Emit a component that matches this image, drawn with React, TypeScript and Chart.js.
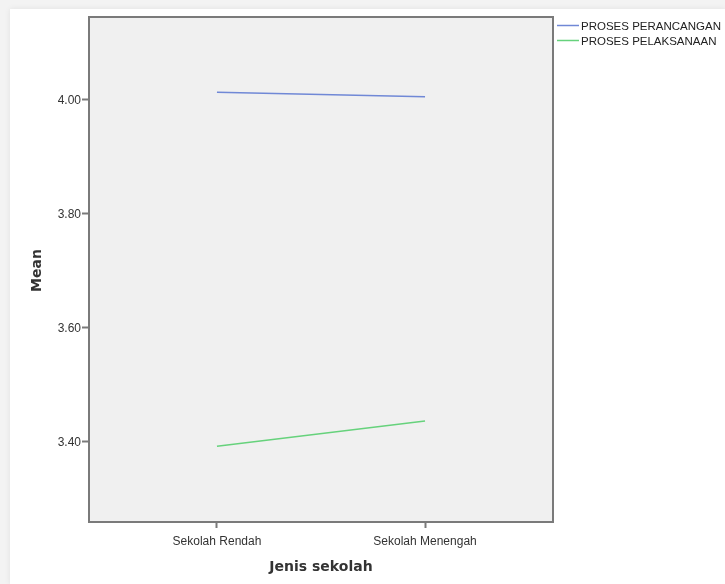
import React, { useEffect, useRef } from "react";
import { Chart, registerables } from "chart.js";

Chart.register(...registerables);

const categories = ["Sekolah Rendah", "Sekolah Menengah"];
const seriesNames = ["PROSES PERANCANGAN", "PROSES PELAKSANAAN"];
const perancangan = [4.012, 4.004];
const pelaksanaan = [3.391, 3.435];
const yTicks = [3.4, 3.6, 3.8, 4.0];
const xTitle = "Jenis sekolah";
const yTitle = "Mean";
const colors = ["#7088d6", "#66d27c"];

const W = 725;
const H = 584;
const FONT = "'Liberation Sans', Arial, sans-serif";
const TITLE_FONT = "bold 14px 'DejaVu Sans', sans-serif";

export default function App() {
  const ref = useRef<HTMLCanvasElement | null>(null);

  useEffect(() => {
    if (!ref.current) return;
    const bgPlugin = {
      id: "plotbg",
      beforeDraw(chart: any) {
        const { ctx, chartArea: a } = chart;
        ctx.save();
        ctx.fillStyle = "#f0f0f0";
        ctx.fillRect(a.left, a.top, a.right - a.left, a.bottom - a.top);
        ctx.restore();
      },
      afterDraw(chart: any) {
        const { ctx, chartArea: a } = chart;
        ctx.save();
        ctx.strokeStyle = "#7a7a7a";
        ctx.lineWidth = 2;
        ctx.strokeRect(a.left, a.top, a.right - a.left, a.bottom - a.top);
        // axis titles
        ctx.fillStyle = "#333";
        ctx.font = TITLE_FONT;
        ctx.textAlign = "center";
        ctx.textBaseline = "middle";
        ctx.fillText(xTitle, (a.left + a.right) / 2, 567);
        ctx.save();
        ctx.translate(37, (a.top + a.bottom) / 2 + 1);
        ctx.rotate(-Math.PI / 2);
        ctx.fillText(yTitle, 0, 0);
        ctx.restore();
        // legend
        ctx.font = `11.5px ${FONT}`;
        ctx.textAlign = "left";
        ctx.textBaseline = "middle";
        ctx.fillStyle = "#222";
        seriesNames.forEach((n, i) => {
          const y = a.top + 8.5 + i * 15;
          ctx.strokeStyle = colors[i];
          ctx.lineWidth = 1.5;
          ctx.beginPath();
          ctx.moveTo(a.right + 4, y);
          ctx.lineTo(a.right + 26, y);
          ctx.stroke();
          ctx.fillText(n, a.right + 28, y + 1.5);
        });
        ctx.restore();
      },
    };

    const chart = new Chart(ref.current, {
      type: "line",
      data: {
        datasets: [
          {
            label: seriesNames[0],
            data: perancangan.map((v, i) => ({ x: i, y: v })),
            borderColor: colors[0],
            borderWidth: 1.5,
            pointRadius: 0,
            fill: false,
          },
          {
            label: seriesNames[1],
            data: pelaksanaan.map((v, i) => ({ x: i, y: v })),
            borderColor: colors[1],
            borderWidth: 1.5,
            pointRadius: 0,
            fill: false,
          },
        ],
      },
      options: {
        animation: false,
        responsive: false,
        devicePixelRatio: 1,
        layout: { padding: { left: 0, top: 17, right: 172, bottom: 0 } },
        plugins: { legend: { display: false }, tooltip: { enabled: false } },
        scales: {
          x: {
            type: "linear",
            min: -0.615,
            max: 1.615,
            afterBuildTicks(scale: any) {
              scale.ticks = categories.map((_, i) => ({ value: i }));
            },
            afterFit(scale: any) {
              scale.height = 62;
            },
            ticks: {
              autoSkip: false,
              maxRotation: 0,
              padding: 6,
              color: "#333",
              font: { family: FONT, size: 12 },
              callback: (v: any) => categories[v as number] ?? "",
            },
            grid: {
              drawOnChartArea: false,
              drawTicks: true,
              tickLength: 6,
              tickColor: "#7a7a7a",
              tickWidth: 2,
            },
            border: { display: false },
          },
          y: {
            min: 3.258,
            max: 4.144,
            afterBuildTicks(scale: any) {
              scale.ticks = yTicks.map((v) => ({ value: v }));
            },
            afterFit(scale: any) {
              scale.width = 89;
            },
            ticks: {
              padding: 1,
              labelOffset: 2,
              color: "#333",
              font: { family: FONT, size: 12 },
              callback: (v: any) => Number(v).toFixed(2),
            },
            grid: {
              drawOnChartArea: false,
              drawTicks: true,
              tickLength: 7,
              tickColor: "#7a7a7a",
              tickWidth: 2,
            },
            border: { display: false },
          },
        },
      },
      plugins: [bgPlugin],
    } as any);
    return () => chart.destroy();
  }, []);

  return (
    <div
      style={{
        position: "fixed",
        left: 0,
        top: 0,
        width: W,
        height: H,
        background: "#f3f3f3",
      }}
    >
      <div
        style={{
          position: "absolute",
          left: 10,
          top: 9,
          right: 0,
          bottom: 0,
          background: "#ffffff",
          boxShadow: "0 0 6px rgba(0,0,0,0.08)",
        }}
      />
      <canvas
        ref={ref}
        width={W}
        height={H}
        style={{ position: "absolute", left: 0, top: 0, width: W, height: H }}
      />
    </div>
  );
}
